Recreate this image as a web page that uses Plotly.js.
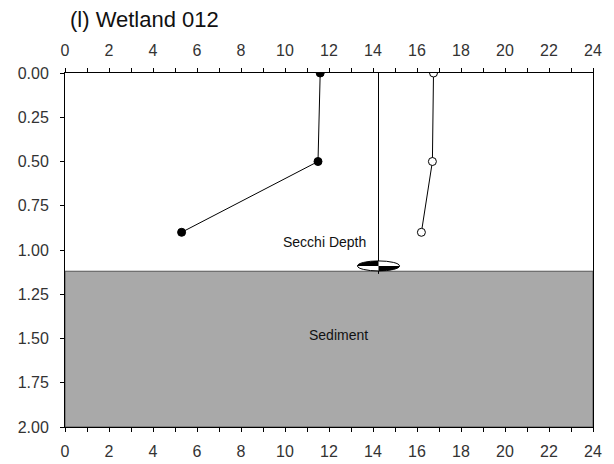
<!DOCTYPE html>
<html><head><meta charset="utf-8">
<script src="https://cdn.plot.ly/plotly-3.0.1.min.js"></script>
<style>html,body{margin:0;padding:0;background:#fff;}#chart{width:614px;height:464px;}</style>
</head><body><div id="chart"></div>
<script>
// Data
const depthFilled = [0.0, 0.5, 0.9];
const valueFilled = [11.6, 11.5, 5.3];
const depthOpen = [0.0, 0.5, 0.9];
const valueOpen = [16.75, 16.7, 16.2];
const secchiX = [14.25];
const secchiDepth = [1.09];
const sedimentDepth = [1.12];
const maxDepth = [2.0];
const xRange = [0, 24];
const yTickVals = [0, 0.25, 0.5, 0.75, 1.0, 1.25, 1.5, 1.75, 2.0];
const yTickText = yTickVals.map(v => v.toFixed(2));
const labels = {title: '(l) Wetland 012', secchi: 'Secchi Depth', sediment: 'Sediment'};

const font = 'Arial, "Liberation Sans", sans-serif';

const traces = [
  {x: [secchiX[0], secchiX[0]], y: [0, sedimentDepth[0] + 0.015], mode: 'lines',
   line: {color: '#000', width: 1}, hoverinfo: 'skip', showlegend: false},
  {x: valueFilled, y: depthFilled, mode: 'lines+markers',
   line: {color: '#000', width: 1},
   marker: {symbol: 'circle', size: 8, color: '#000', line: {color: '#000', width: 1}}, showlegend: false},
  {x: valueOpen, y: depthOpen, mode: 'lines+markers',
   line: {color: '#000', width: 1},
   marker: {symbol: 'circle', size: 8, color: '#fff', line: {color: '#000', width: 1}}, showlegend: false},
  {x: [xRange[0]], y: [0], xaxis: 'x2', mode: 'markers', marker: {opacity: 0}, hoverinfo: 'skip', showlegend: false}
];

// Secchi disk built in pixel size around its data anchor
const a = 21, b = 5, k = 0.5523;
const q = (sx, sy) => `M0,0 L${sx*a},0 C${sx*a},${sy*b*k} ${sx*a*k},${sy*b} 0,${sy*b} Z`;
const shapes = [
  {type: 'rect', xref: 'x', yref: 'y', x0: xRange[0], x1: xRange[1], y0: sedimentDepth[0], y1: maxDepth[0],
   fillcolor: '#a9a9a9', line: {color: '#555', width: 1}, layer: 'below'},
  {type: 'circle', xref: 'x', yref: 'y', xsizemode: 'pixel', ysizemode: 'pixel',
   xanchor: secchiX[0], yanchor: secchiDepth[0], x0: -a, x1: a, y0: -b, y1: b,
   fillcolor: '#fff', line: {color: '#000', width: 1}},
  {type: 'path', xref: 'x', yref: 'y', xsizemode: 'pixel', ysizemode: 'pixel',
   xanchor: secchiX[0], yanchor: secchiDepth[0], path: q(-1, 1), fillcolor: '#000', line: {width: 0}},
  {type: 'path', xref: 'x', yref: 'y', xsizemode: 'pixel', ysizemode: 'pixel',
   xanchor: secchiX[0], yanchor: secchiDepth[0], path: q(1, -1), fillcolor: '#000', line: {width: 0}}
];

const xaxisCommon = {
  range: xRange, dtick: 2, tick0: 0, ticks: 'outside', ticklen: 4, tickwidth: 1, tickcolor: '#000',
  showline: true, linecolor: '#000', linewidth: 1, showgrid: false, zeroline: false,
  ticklabelstandoff: 6,
  tickfont: {family: font, size: 16, color: '#333'},
  minor: {dtick: 1, tick0: 0, ticks: 'outside', ticklen: 4, tickcolor: '#000', showgrid: false}
};

const layout = {
  width: 614, height: 464,
  margin: {l: 65, r: 21, t: 73, b: 37},
  paper_bgcolor: '#fff', plot_bgcolor: '#fff',
  title: {text: labels.title, x: 70/614, xanchor: 'left', xref: 'container', y: 1 - 19/464, yanchor: 'middle',
          font: {family: font, size: 22, color: '#111'}},
  xaxis: Object.assign({}, xaxisCommon, {side: 'bottom', mirror: false}),
  xaxis2: Object.assign({}, xaxisCommon, {side: 'top', overlaying: 'x', matches: 'x'}),
  yaxis: {range: [maxDepth[0], 0], tickvals: yTickVals, ticktext: yTickText, ticks: 'outside', ticklen: 4,
          tickcolor: '#000', showline: true, linecolor: '#000', mirror: true, showgrid: false, zeroline: false,
          ticklabelstandoff: 8,
          tickfont: {family: font, size: 16, color: '#333'}},
  shapes: shapes,
  annotations: [
    {x: 11.8, y: 0.955, xref: 'x', yref: 'y', text: labels.secchi, showarrow: false,
     font: {family: font, size: 14, color: '#111'}},
    {x: 12.45, y: 1.48, xref: 'x', yref: 'y', text: labels.sediment, showarrow: false,
     font: {family: font, size: 14, color: '#111'}}
  ]
};

Plotly.newPlot('chart', traces, layout, {displayModeBar: false, staticPlot: true});
</script></body></html>
